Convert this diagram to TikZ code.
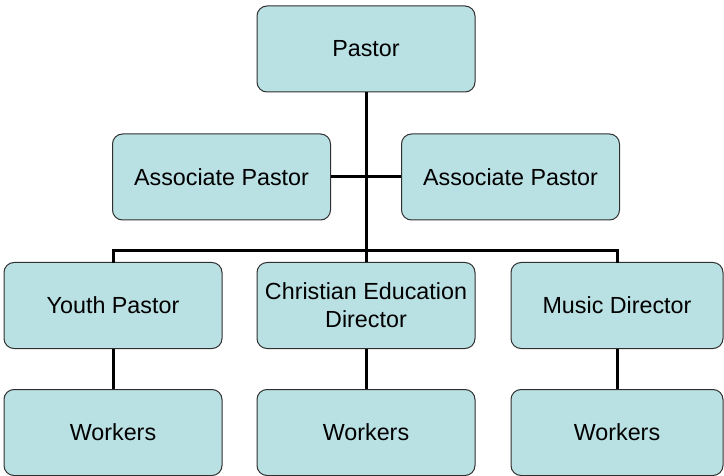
\documentclass[tikz,border=0pt]{standalone}
\usepackage{fontspec}
\setmainfont{Liberation Sans}
\definecolor{boxfill}{HTML}{B9E0E3}
\definecolor{boxline}{HTML}{303030}
\begin{document}
\begin{tikzpicture}[x=1pt,y=-1pt,
  orgbox/.style={draw=boxline,line width=1pt,fill=boxfill,rounded corners=10pt,
    minimum width=218pt,minimum height=86pt,inner sep=0pt,align=center,
    font=\fontsize{23.3}{28}\selectfont,text=black},
  edgebox/.style={orgbox,minimum width=212pt},
  link/.style={line width=3pt,draw=black}]
\useasboundingbox (0,0) rectangle (724,476);
\node[orgbox] (pastor) at (366,49) {Pastor};
\node[orgbox] (assocL) at (221.5,177) {Associate Pastor};
\node[orgbox] (assocR) at (510.5,177) {Associate Pastor};
\node[orgbox] (youth) at (113,305.5) {Youth Pastor};
\node[orgbox] (ced) at (366,305.5) {Christian Education\\Director};
\node[edgebox] (music) at (617,305.5) {Music Director};
\node[orgbox] (w1) at (113,432.5) {Workers};
\node[orgbox] (w2) at (366,432.5) {Workers};
\node[edgebox] (w3) at (617,432.5) {Workers};
\coordinate (barL) at (113,251);
\coordinate (barR) at (617,251);
\draw[link] (pastor.south) -- (ced.north);
\draw[link] (assocL.east) -- (assocR.west);
\draw[link,line cap=rect] (youth.north) -- (barL) -- (barR) -- (music.north);
\draw[link] (youth.south) -- (w1.north);
\draw[link] (ced.south) -- (w2.north);
\draw[link] (music.south) -- (w3.north);
\end{tikzpicture}
\end{document}
